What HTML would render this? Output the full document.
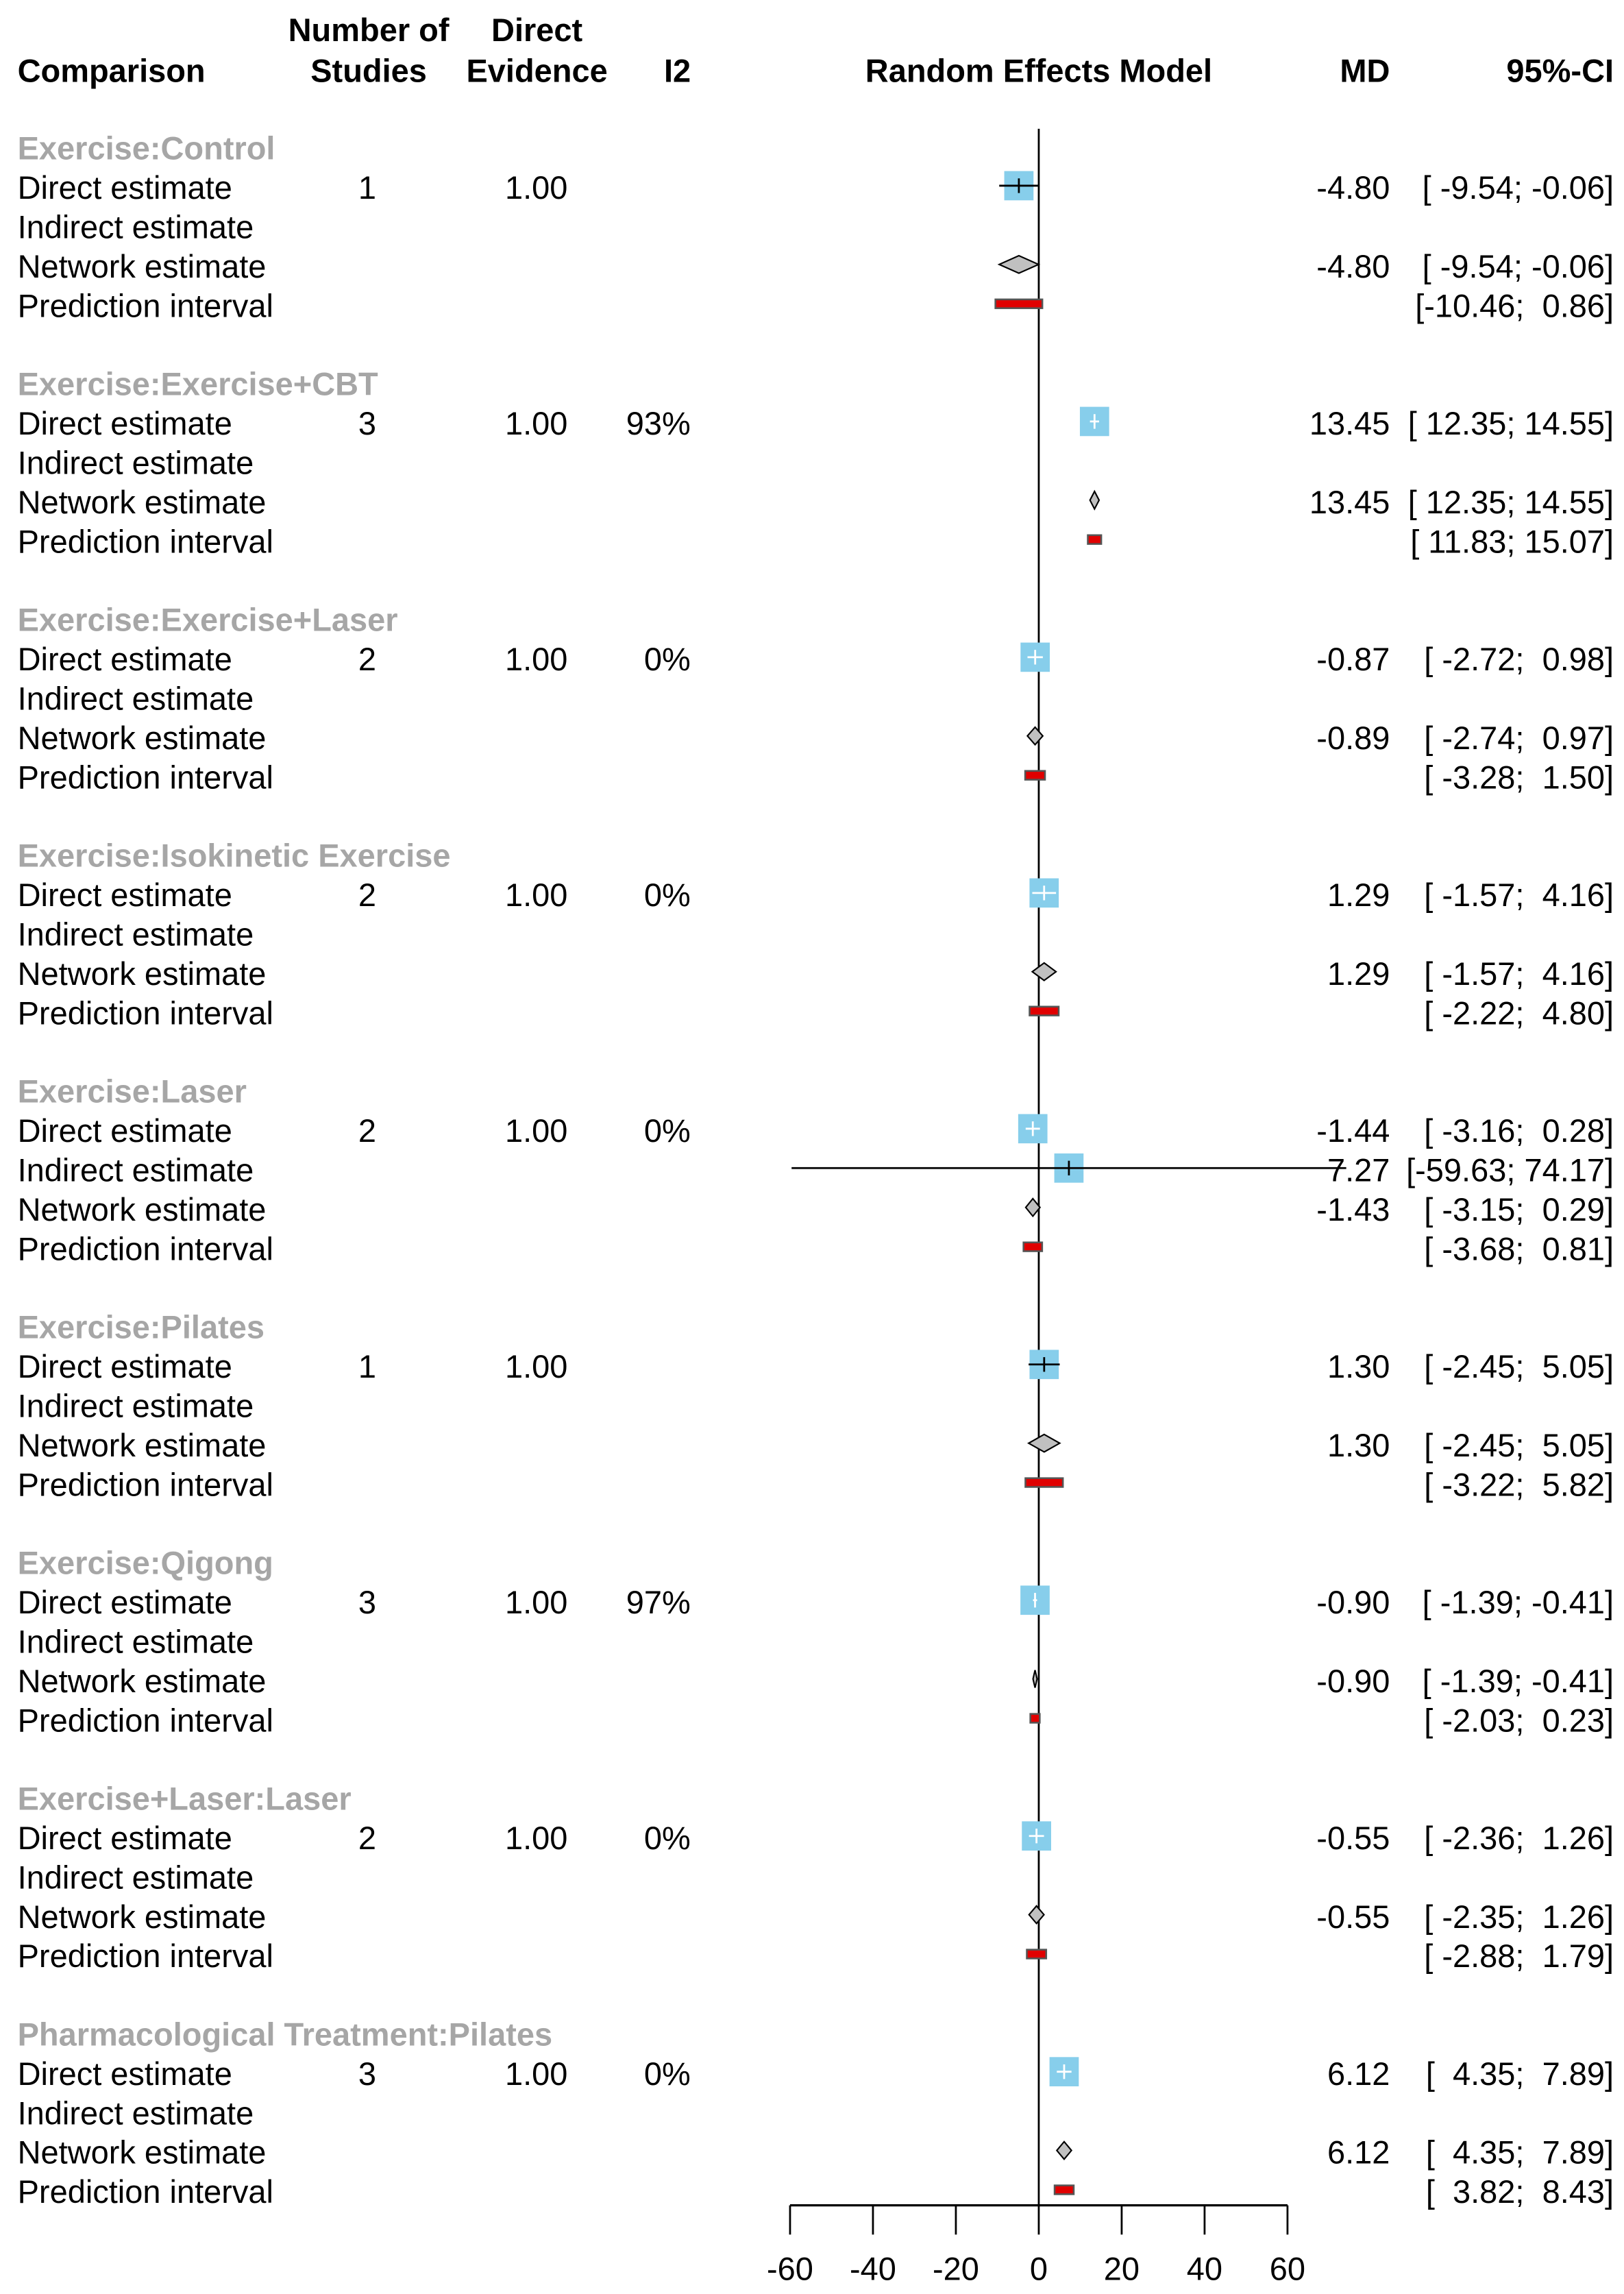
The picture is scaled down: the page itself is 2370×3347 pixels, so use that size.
<!DOCTYPE html>
<html><head><meta charset="utf-8"><style>
html,body{margin:0;padding:0;background:#fff;}
svg{display:block;}
text{font-family:"Liberation Sans",Arial,sans-serif;font-size:22px;fill:#000;white-space:pre;}
.b{font-weight:bold;}
.g{font-weight:bold;fill:#a6a6a6;}
</style></head><body>
<svg id="chart" width="2370" height="3347" viewBox="0 0 1110 1567.6" preserveAspectRatio="none" xmlns="http://www.w3.org/2000/svg">
<g>
<text class="b" x="12" y="56">Comparison</text>
<text class="b" x="252" y="28" text-anchor="middle">Number of</text>
<text class="b" x="252" y="56" text-anchor="middle">Studies</text>
<text class="b" x="367" y="28" text-anchor="middle">Direct</text>
<text class="b" x="367" y="56" text-anchor="middle">Evidence</text>
<text class="b" x="463" y="56" text-anchor="middle">I2</text>
<text class="b" x="710" y="56" text-anchor="middle">Random Effects Model</text>
<text class="b" x="950" y="56" text-anchor="end">MD</text>
<text class="b" x="1103" y="56" text-anchor="end">95%-CI</text>
</g>
<g id="rows"></g>
<g id="axis"></g>
</svg>
<script>
const comparisons = ["Exercise:Control","Exercise:Exercise+CBT","Exercise:Exercise+Laser","Exercise:Isokinetic Exercise","Exercise:Laser","Exercise:Pilates","Exercise:Qigong","Exercise+Laser:Laser","Pharmacological Treatment:Pilates"];
const nStudies = ["1","3","2","2","2","1","3","2","3"];
const directEvidence = ["1.00","1.00","1.00","1.00","1.00","1.00","1.00","1.00","1.00"];
const i2 = ["","93%","0%","0%","0%","","97%","0%","0%"];
const directMD = [-4.80,13.45,-0.87,1.29,-1.44,1.30,-0.90,-0.55,6.12];
const directLo = [-9.54,12.35,-2.72,-1.57,-3.16,-2.45,-1.39,-2.36,4.35];
const directHi = [-0.06,14.55,0.98,4.16,0.28,5.05,-0.41,1.26,7.89];
const indirectMD = [null,null,null,null,7.27,null,null,null,null];
const indirectLo = [null,null,null,null,-59.63,null,null,null,null];
const indirectHi = [null,null,null,null,74.17,null,null,null,null];
const networkMD = [-4.80,13.45,-0.89,1.29,-1.43,1.30,-0.90,-0.55,6.12];
const networkLo = [-9.54,12.35,-2.74,-1.57,-3.15,-2.45,-1.39,-2.35,4.35];
const networkHi = [-0.06,14.55,0.97,4.16,0.29,5.05,-0.41,1.26,7.89];
const predLo = [-10.46,11.83,-3.28,-2.22,-3.68,-3.22,-2.03,-2.88,3.82];
const predHi = [0.86,15.07,1.50,4.80,0.81,5.82,0.23,1.79,8.43];
const ticks = [-60,-40,-20,0,20,40,60];

const NS="http://www.w3.org/2000/svg";
const X0=710, XS=170/60;
function xScale(v){return X0+v*XS;}
const G0=101, GSTEP=161.1, RSTEP=26.9;
function yRow(g,r){return G0+g*GSTEP+r*RSTEP;}
function mk(tag,attrs,parent,txt){const e=document.createElementNS(NS,tag);for(const k in attrs)e.setAttribute(k,attrs[k]);if(txt!==undefined)e.textContent=txt;parent.appendChild(e);return e;}
function f2(v){return v.toFixed(2);}
function pad(s,n){while(s.length<n)s=" "+s;return s;}
function ci(lo,hi){return "["+pad(f2(lo),6)+"; "+pad(f2(hi),5)+"]";}

const rows=document.getElementById('rows');
const zl=mk('line',{x1:X0,x2:X0,y1:88,y2:1507,stroke:'#000','stroke-width':1.3},rows);



function square(g,r,md,lo,hi,parent){
  const y=yRow(g,r)-1, s=20;
  const sq=mk('rect',{x:xScale(md)-s/2,y:y-s/2,width:s,height:s,fill:'#87ceeb'},parent);
  
  
  const lx1=xScale(lo), lx2=xScale(hi);
  const inside=(xScale(lo)>xScale(md)-s/2 && xScale(hi)<xScale(md)+s/2);
  const col=inside?'#fff':'#000';
  const l=mk('line',{x1:lx1,x2:lx2,y1:y,y2:y,stroke:col,'stroke-width':1.3},parent);
  
  
  const t=mk('line',{x1:xScale(md),x2:xScale(md),y1:y-5,y2:y+5,stroke:col,'stroke-width':1.3},parent);
  
  
}

for(let g=0;g<comparisons.length;g++){
  const grp=mk('g',{},rows);
  
  
  const ty=o=>yRow(g,o)+8;
  const gt=mk('text',{class:'g',x:12,y:ty(0)},grp,comparisons[g]);
  
  
  const labels=["Direct estimate","Indirect estimate","Network estimate","Prediction interval"];
  for(let r=0;r<4;r++){
    const t=mk('text',{x:12,y:ty(r+1)},grp,labels[r]);
    
    
  }
  let t=mk('text',{x:251,y:ty(1),'text-anchor':'middle'},grp,nStudies[g]);
  
  
  t=mk('text',{x:388,y:ty(1),'text-anchor':'end'},grp,directEvidence[g]);
  
  
  t=mk('text',{x:472,y:ty(1),'text-anchor':'end'},grp,i2[g]);
  
  
  square(g,1,directMD[g],directLo[g],directHi[g],grp);
  t=mk('text',{x:950,y:ty(1),'text-anchor':'end'},grp,f2(directMD[g]));
  
  
  t=mk('text',{x:1103,y:ty(1),'text-anchor':'end'},grp,ci(directLo[g],directHi[g]));
  
  
  if(indirectMD[g]!==null){
    square(g,2,indirectMD[g],indirectLo[g],indirectHi[g],grp);
    t=mk('text',{x:950,y:ty(2),'text-anchor':'end'},grp,f2(indirectMD[g]));
    
    
    t=mk('text',{x:1103,y:ty(2),'text-anchor':'end'},grp,"["+f2(indirectLo[g])+"; "+f2(indirectHi[g])+"]");
    
    
  }
  const ny=yRow(g,3)-1;
  const d=mk('polygon',{points:`${xScale(networkLo[g])},${ny} ${xScale(networkMD[g])},${ny-6} ${xScale(networkHi[g])},${ny} ${xScale(networkMD[g])},${ny+6}`,fill:'#c0c0c0',stroke:'#000','stroke-width':1},grp);
  
  
  t=mk('text',{x:950,y:ty(3),'text-anchor':'end'},grp,f2(networkMD[g]));
  
  
  t=mk('text',{x:1103,y:ty(3),'text-anchor':'end'},grp,ci(networkLo[g],networkHi[g]));
  
  
  const py=yRow(g,4)-1;
  const pr=mk('rect',{x:xScale(predLo[g]),y:py-3,width:xScale(predHi[g])-xScale(predLo[g]),height:6,fill:'#e00000',stroke:'#555','stroke-width':1.2},grp);
  
  
  t=mk('text',{x:1103,y:ty(4),'text-anchor':'end'},grp,ci(predLo[g],predHi[g]));
  
  
}

const ax=document.getElementById('axis');
const al=mk('line',{x1:xScale(ticks[0]),x2:xScale(ticks[ticks.length-1]),y1:1507,y2:1507,stroke:'#000','stroke-width':1.5},ax);


for(const v of ticks){
  const tl=mk('line',{x1:xScale(v),x2:xScale(v),y1:1507,y2:1527,stroke:'#000','stroke-width':1.3},ax);
  
  
  const tt=mk('text',{x:xScale(v),y:1558,'text-anchor':'middle'},ax,String(v));
  
  
}
</script>
</body></html>
